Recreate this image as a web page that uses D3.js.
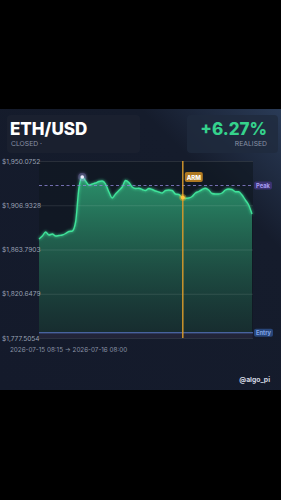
<!DOCTYPE html>
<html>
<head>
<meta charset="utf-8">
<script src="https://cdn.jsdelivr.net/npm/d3@7"></script>
<style>
  html, body { margin: 0; padding: 0; background: #000; }
  svg { display: block; font-family: Inter, "Noto Sans", sans-serif; }
</style>
</head>
<body>
<script>
// price series, equally spaced 15m-ish samples
var prices = [
  1874.03, 1876.95, 1880.85, 1877.93, 1878.90, 1876.95, 1877.44, 1877.93, 1879.39, 1881.34,
  1881.83, 1890.60, 1923.75, 1934.48, 1930.58, 1926.68, 1927.65, 1928.63, 1930.09, 1930.58,
  1927.65, 1919.85, 1914.00, 1917.90, 1921.31, 1924.73, 1931.06, 1929.11, 1924.73, 1923.27,
  1923.46, 1922.29, 1921.31, 1923.27, 1922.29, 1920.83, 1919.85, 1918.88, 1921.31, 1921.80,
  1921.31, 1917.90, 1917.41, 1914.49, 1913.71, 1914.00, 1915.46, 1918.88, 1920.34, 1922.29,
  1923.46, 1921.80, 1918.39, 1917.90, 1917.90, 1918.88, 1921.80, 1922.78, 1922.29, 1920.14,
  1920.14, 1916.93, 1912.05, 1907.18, 1898.40
];
var yTicks = [1777.5054, 1820.6479, 1863.7903, 1906.9328, 1950.0752];
var peakLevel = 1926.2;
var entryLevel = 1782.6;
var peakIndex = 13;
var armIndex = 43;
var symbol = "ETH/USD";
var status = "CLOSED";
var pnl = "+6.27%";
var range = "2026-07-15 08:15  \u2192  2026-07-16 08:00";
var handle = "@algo_pi";

var W = 281, H = 500;
var margin = {top: 161, right: 28, bottom: 162, left: 39};
var width = W - margin.left - margin.right,
    height = H - margin.top - margin.bottom;

var svg = d3.select("body").append("svg")
    .attr("width", W)
    .attr("height", H);

var defs = svg.append("defs");

// panel background
var pg = defs.append("linearGradient").attr("id", "panelGrad")
    .attr("x1", "0").attr("y1", "1").attr("x2", "1").attr("y2", "0");
pg.append("stop").attr("offset", "0").attr("stop-color", "#141a2b");
pg.append("stop").attr("offset", "0.75").attr("stop-color", "#151c2c");
pg.append("stop").attr("offset", "1").attr("stop-color", "#2a3b57");

var ag = defs.append("linearGradient").attr("id", "areaGrad")
    .attr("x1", "0").attr("y1", "0").attr("x2", "0").attr("y2", "1");
ag.append("stop").attr("offset", "0").attr("stop-color", "#2fa577").attr("stop-opacity", 0.85);
ag.append("stop").attr("offset", "1").attr("stop-color", "#1c3d38").attr("stop-opacity", 0.5);

var glow = defs.append("filter").attr("id", "glow")
    .attr("x", "-20%").attr("y", "-20%").attr("width", "140%").attr("height", "140%");
glow.append("feGaussianBlur").attr("stdDeviation", 1.5).attr("result", "b");
var fm = glow.append("feMerge");
fm.append("feMergeNode").attr("in", "b");
fm.append("feMergeNode").attr("in", "SourceGraphic");

svg.append("rect").attr("x", 0).attr("y", 0).attr("width", W).attr("height", H).attr("fill", "#000");
svg.append("rect").attr("x", 0).attr("y", 109).attr("width", W).attr("height", 281)
    .attr("fill", "url(#panelGrad)");

// header cards
svg.append("rect").attr("x", 7).attr("y", 115).attr("width", 133).attr("height", 38)
    .attr("rx", 4).attr("fill", "#1b2231").attr("opacity", 0.8);
svg.append("rect").attr("x", 187).attr("y", 115).attr("width", 91).attr("height", 38)
    .attr("rx", 4).attr("fill", "#1f2a3d").attr("opacity", 0.8);

svg.append("text").attr("x", 10).attr("y", 135)
    .attr("fill", "#ffffff").attr("font-size", 17).attr("font-weight", 800)
    .text(symbol);
svg.append("text").attr("x", 11).attr("y", 146)
    .attr("fill", "#8a93a6").attr("font-size", 6.8)
    .text(status + " \u00b7");
svg.append("text").attr("x", 267).attr("y", 135).attr("text-anchor", "end")
    .attr("fill", "#35d28c").attr("font-size", 17).attr("font-weight", 800)
    .text(pnl);
svg.append("text").attr("x", 267).attr("y", 146).attr("text-anchor", "end")
    .attr("fill", "#8a93a6").attr("font-size", 6.8)
    .text("REALISED");

// scales
var x = d3.scaleLinear().domain([0, prices.length - 1]).range([0, width - 1]);
var y = d3.scaleLinear().domain([yTicks[0], yTicks[yTicks.length - 1]]).range([height, 0]);

var g = svg.append("g")
    .attr("transform", "translate(" + margin.left + "," + margin.top + ")");

g.append("rect").attr("width", width).attr("height", height).attr("fill", "#0f1820").attr("opacity", 0.6);

// area + line
var area = d3.area()
    .x(function(d, i) { return x(i); })
    .y0(height)
    .y1(function(d) { return y(d); })
    .curve(d3.curveMonotoneX);
var line = d3.line()
    .x(function(d, i) { return x(i); })
    .y(function(d) { return y(d); })
    .curve(d3.curveMonotoneX);

g.append("path").attr("d", area(prices)).attr("fill", "url(#areaGrad)");

// grid
var yAxis = d3.axisLeft(y)
    .tickValues(yTicks)
    .tickSize(-width)
    .tickFormat(function(d) { return "$" + d3.format(",.4f")(d); });
var ya = g.append("g").call(yAxis);
ya.select(".domain").remove();
ya.selectAll(".tick line").attr("stroke", "#ffffff").attr("stroke-opacity", 0.1);
ya.selectAll(".tick text")
    .attr("x", -37).attr("text-anchor", "start")
    .attr("fill", "#9aa2b4").attr("font-size", 6.6)
    .attr("font-family", "Inter, 'Noto Sans', sans-serif");

g.append("path").attr("d", line(prices))
    .attr("fill", "none").attr("stroke", "#3fe39a").attr("stroke-width", 1.4)
    .attr("filter", "url(#glow)");

// peak level
g.append("line").attr("x1", 0).attr("x2", width).attr("y1", y(peakLevel)).attr("y2", y(peakLevel))
    .attr("stroke", "#8f86d8").attr("stroke-width", 0.8).attr("stroke-dasharray", "3,2.5");
g.append("rect").attr("x", width + 1).attr("y", y(peakLevel) - 4).attr("width", 18).attr("height", 8)
    .attr("rx", 2).attr("fill", "#3b3370");
g.append("text").attr("x", width + 10).attr("y", y(peakLevel) + 2.3).attr("text-anchor", "middle")
    .attr("fill", "#a79cf0").attr("font-size", 5.8).attr("font-weight", 700).text("Peak");

// entry level
g.append("rect").attr("x", 0).attr("y", y(entryLevel)).attr("width", width)
    .attr("height", height - y(entryLevel)).attr("fill", "#2a2040").attr("opacity", 0.6);
g.append("line").attr("x1", 0).attr("x2", width).attr("y1", y(entryLevel)).attr("y2", y(entryLevel))
    .attr("stroke", "#5a78c8").attr("stroke-width", 1);
g.append("rect").attr("x", width + 1).attr("y", y(entryLevel) - 4).attr("width", 19).attr("height", 8)
    .attr("rx", 2).attr("fill", "#28467a");
g.append("text").attr("x", width + 10.5).attr("y", y(entryLevel) + 2.3).attr("text-anchor", "middle")
    .attr("fill", "#7fa3e6").attr("font-size", 5.8).attr("font-weight", 700).text("Entry");

// arm marker
var ax = x(armIndex) + 0.7;
g.append("line").attr("x1", ax).attr("x2", ax).attr("y1", 0).attr("y2", height)
    .attr("stroke", "#d99a2b").attr("stroke-width", 1.4);
g.append("rect").attr("x", ax + 2).attr("y", 11).attr("width", 18).attr("height", 10)
    .attr("rx", 2).attr("fill", "#b07a22");
g.append("text").attr("x", ax + 11).attr("y", 18.5).attr("text-anchor", "middle")
    .attr("fill", "#ffffff").attr("font-size", 6).attr("font-weight", 800).text("ARM");
g.append("circle").attr("cx", ax).attr("cy", y(prices[armIndex]))
    .attr("r", 3.5).attr("fill", "#ffb020").attr("opacity", 0.4);
g.append("circle").attr("cx", ax).attr("cy", y(prices[armIndex]))
    .attr("r", 2).attr("fill", "#ffc23a");

// peak dot
g.append("circle").attr("cx", x(peakIndex)).attr("cy", y(prices[peakIndex]))
    .attr("r", 4).attr("fill", "#b8a8ff").attr("opacity", 0.35).attr("filter", "url(#glow)");
g.append("circle").attr("cx", x(peakIndex)).attr("cy", y(prices[peakIndex]))
    .attr("r", 1.8).attr("fill", "#f0ecff");

// footer
svg.append("text").attr("x", 10).attr("y", 352)
    .attr("fill", "#8a93a6").attr("font-size", 6.3)
    .text(range);
svg.append("text").attr("x", 270).attr("y", 382).attr("text-anchor", "end")
    .attr("fill", "#d6dae3").attr("font-size", 6.8).attr("font-weight", 700)
    .text(handle);
</script>
</body>
</html>
